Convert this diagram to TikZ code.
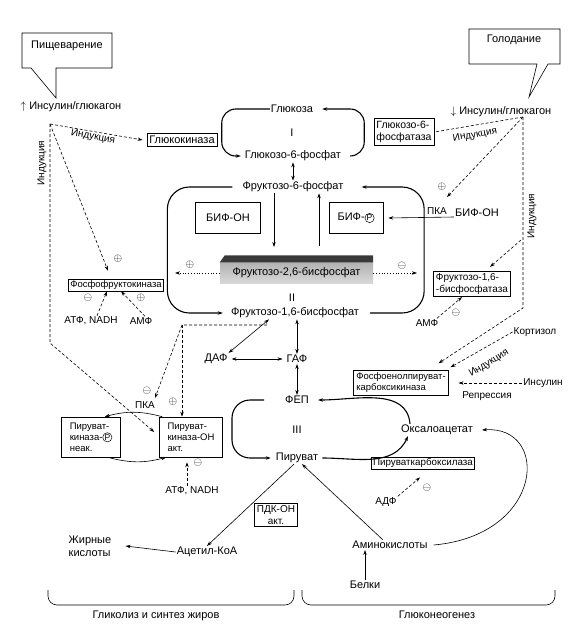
\documentclass[tikz,border=0pt]{standalone}
\usepackage{fontspec}
\setmainfont{Liberation Sans}
\usetikzlibrary{arrows.meta,calc,positioning}

\newcommand{\fosf}{\tikz[baseline=(fp.base)]\node[draw,circle,minimum size=0pt,minimum width=0pt,minimum height=0pt,inner sep=0.4pt,line width=0.5pt,font=\fontsize{8.5}{8.5}\selectfont](fp){P};}

\tikzset{
  txt/.style={font=\fontsize{11}{13}\selectfont,inner sep=1pt},
  sm/.style={font=\fontsize{10}{11.5}\selectfont,inner sep=1pt},
  enz/.style={draw,line width=0.6pt,font=\fontsize{9.5}{11}\selectfont,inner sep=2.5pt,align=left},
  flux/.style={->,line width=1.1pt,rounded corners=14pt},
  reg/.style={->,line width=0.6pt,dash pattern=on 3pt off 2pt},
  dline/.style={line width=0.6pt,dash pattern=on 3pt off 2pt},
  eff/.style={->,line width=0.8pt,dotted},
  thinarr/.style={->,line width=0.6pt},
  sgn/.style={inner sep=0pt,font=\fontsize{11}{11}\selectfont}
}

\begin{document}
\begin{tikzpicture}[x=1pt,y=-1pt,>={Stealth[length=5pt,width=3.4pt]}]
\useasboundingbox (0,0) rectangle (569,637);

% callouts
\draw[line width=0.6pt] (31,68) -- (22,68) -- (22,33) -- (112,33) -- (112,68) -- (56,68) -- (56,98) -- cycle;
\node[txt] (dig) at (67,46) {Пищеварение};
\draw[line width=0.6pt] (537,64) -- (469,64) -- (469,29) -- (560,29) -- (560,64) -- (548,64) -- (529,97) -- cycle;
\node[txt] (fast) at (514,40) {Голодание};

\node[txt] (insU) at (71,107) {$\uparrow$ Инсулин/глюкагон};
\node[txt] (insD) at (501,112) {$\downarrow$ Инсулин/глюкагон};
\coordinate (hubU) at (50,124);
\coordinate (hubD) at (523,117);

% metabolites
\node[txt] (glc) at (292,109) {Глюкоза};
\node[txt] (nI) at (292,133) {I};
\node[txt] (g6p) at (293,156) {Глюкозо-6-фосфат};
\node[txt] (f6p) at (293,187) {Фруктозо-6-фосфат};
\node[txt] (nII) at (292,298) {II};
\node[txt] (f16) at (295,313) {Фруктозо-1,6-бисфосфат};
\node[txt] (dap) at (216,359) {ДАФ};
\node[txt] (gap) at (297,359) {ГАФ};
\node[txt] (pep) at (297,400) {ФЕП};
\node[txt] (nIII) at (297,430) {III};
\node[txt] (pyr) at (297,458) {Пируват};
\node[txt] (oaa) at (437,430) {Оксалоацетат};
\node[txt] (acoa) at (207,552) {Ацетил-КоА};
\node[txt,align=left] (fa) at (90,546) {Жирные\\кислоты};
\node[txt] (aa) at (390,545) {Аминокислоты};
\node[txt] (prot) at (365,585) {Белки};

% enzymes
\node[enz,font=\fontsize{11}{13}\selectfont,inner sep=2.5pt] (gk) at (182,140) {Глюкокиназа};
\node[enz,font=\fontsize{10.5}{12}\selectfont] (g6pase) at (404,132) {Глюкозо-6-\\фосфатаза};
\node[enz,inner sep=1.5pt] (pfk) at (116,285) {Фосфофруктокиназа};
\node[enz,font=\fontsize{11}{13}\selectfont,minimum width=65pt,minimum height=31pt,align=center] (bifoh) at (228,218) {БИФ-ОН};
\node[enz,font=\fontsize{11}{13}\selectfont,minimum width=54pt,minimum height=31pt,align=center] (bifp) at (356,218) {БИФ-\fosf};
\node[enz,font=\fontsize{10}{11.5}\selectfont] (fbpase) at (472,284) {Фруктозо-1,6-\\-бисфосфатаза};
\node[enz] (pepck) at (401,383) {Фосфоенолпируват-\\карбоксикиназа};
\node[enz,inner sep=1.5pt,font=\fontsize{9.8}{11}\selectfont] (pc) at (423,463) {Пируваткарбоксилаза};
\node[enz,minimum width=59pt,minimum height=40pt] (pkp) at (91,437) {Пируват-\\киназа-\fosf\\неак.};
\node[enz,minimum width=63pt,minimum height=40pt] (pkoh) at (191,437) {Пируват-\\киназа-ОН\\акт.};
\node[enz,align=center,font=\fontsize{10}{11.5}\selectfont] (pdh) at (276,515) {ПДК-ОН\\акт.};

% fructose-2,6-bisphosphate bar
\node[minimum width=153pt,minimum height=21pt,inner sep=0pt,top color=gray!60,bottom color=gray!30,
  font=\fontsize{11}{13}\selectfont] (f26) at (296.5,273) {Фруктозо-2,6-бисфосфат};
\fill[gray!45!black] (f26.north west) -- ++(5,-7) -- ([yshift=7pt]f26.north east) -- (f26.north east) -- cycle;
\coordinate (f26in) at (274,247);
\coordinate (f26out) at (319,246);
\coordinate (effL) at (175,273);
\coordinate (effR) at (417,273);

% small labels
\node[sm,rotate=-10] (ind1) at (93,137) {Индукция};
\node[sm,rotate=90] (ind2) at (42,163) {Индукция};
\node[sm,rotate=10] (ind3) at (475,135) {Индукция};
\node[sm,rotate=90] (ind4) at (532,216) {Индукция};
\node[sm,rotate=32] (ind5) at (489,363) {Индукция};
\node[sm] (cort) at (535,332) {Кортизол};
\node[sm] (insl) at (543,383) {Инсулин};
\node[sm] (rep) at (487,396) {Репрессия};
\node[sm] (pka1) at (437,211) {ПКА};
\node[txt] (bif2) at (477,213) {БИФ-ОН};
\node[sm] (pka2) at (145,405) {ПКА};
\node[sm] (atp1) at (91,321) {АТФ, NADH};
\node[sm] (amp1) at (141,321) {АМФ};
\node[sm] (amp2) at (427,323) {АМФ};
\node[sm] (atp2) at (192,491) {АТФ, NADH};
\node[sm] (adp) at (386,502) {АДФ};

% signs
\node[sgn] (s1) at (118,259) {$\oplus$};
\node[sgn] (s2) at (88,298) {$\ominus$};
\node[sgn] (s3) at (141,298) {$\oplus$};
\node[sgn] (s4) at (190,265) {$\oplus$};
\node[sgn] (s5) at (402,266) {$\ominus$};
\node[sgn] (s6) at (442,187) {$\oplus$};
\node[sgn] (s7) at (456,313) {$\ominus$};
\node[sgn] (s8) at (147,391) {$\ominus$};
\node[sgn] (s9) at (173,402) {$\oplus$};
\node[sgn] (s10) at (198,463) {$\ominus$};
\node[sgn] (s11) at (427,488) {$\ominus$};

% main fluxes
\draw[flux] (glc.west) -- ++(-48,0) |- ([xshift=-3pt]g6p.west);
\draw[flux] ([xshift=8pt]g6p.east) -- ++(14,0) |- ([xshift=8pt]glc.east);
\draw[flux,rounded corners=22pt] ([xshift=-9pt]f6p.west) -- ++(-65,0) |- ([xshift=-7pt]f16.west);
\draw[flux,rounded corners=22pt] ([xshift=10pt]f16.east) -- ++(54,0) |- ([xshift=17pt]f6p.east);
\draw[flux,rounded corners=18pt] ([xshift=-20pt]pep.west) -- ++(-32,0) |- ([xshift=-4pt]pyr.west);
\draw[flux] ([xshift=3pt]pyr.east) to[out=0,in=-115] ([xshift=-29pt]oaa.south);
\draw[flux] ([xshift=-27pt]oaa.north) to[out=95,in=0] ([xshift=8pt]pep.east);
\draw[thinarr] ([xshift=5pt]aa.east) .. controls (545,535) and (550,425) .. ([xshift=8pt]oaa.east);

% reversible steps
\draw[thinarr,<->] (g6p.south) -- (f6p.north);
\draw[thinarr,<->] ([xshift=-26pt]f16.south) -- (dap.north east);
\draw[thinarr,<->] ([xshift=3pt]dap.east) -- ([xshift=-3pt]gap.west);
\draw[thinarr,<->] (gap.north |- f16.south) -- (gap.north);
\draw[thinarr,<->] (gap.south) -- (pep.north);
\draw[thinarr] ([xshift=-3pt]pyr.south) -- (acoa.north);
\draw[thinarr] ([xshift=-7pt]aa.north) -- ([xshift=5pt]pyr.south);
\draw[thinarr] (acoa.west) -- ([xshift=13pt]fa.east);
\draw[thinarr] (prot.north) -- (prot.north |- aa.south);

% bifunctional enzyme
\draw[thinarr] ([xshift=-19pt]f6p.south) -- (f26in);
\draw[thinarr] (f26out) -- ([xshift=26pt]f6p.south);
\draw[eff] (f26.west) -- (effL);
\draw[eff] (f26.east) -- (effR);
\draw[thinarr] ([yshift=-4pt]bif2.west) -- ([xshift=5pt]bifp.east);

% hormones
\draw[reg] (hubU) -- ([xshift=-4pt]gk.west);
\draw[reg] (hubU) -- (50,343) -- ([xshift=-5pt,yshift=5pt]pkoh.west);
\draw[reg] (hubU) -- ([xshift=-8pt,yshift=8pt]pfk.north);
\draw[dline] (hubD) -- (g6pase.east);
\draw[reg] (hubD) -- (447,197);
\draw[reg] (hubD) -- (523,308) -- ([xshift=-10pt,yshift=7pt]pepck.north east);
\draw[reg] (521,240) -- ([xshift=18pt,yshift=4pt]fbpase.north);
\draw[reg] (cort.west) -- ([xshift=2pt,yshift=3pt]pepck.north east);
\draw[reg] (insl.west) -- ([xshift=10pt]pepck.east);

% allosteric effectors
\draw[reg] ([xshift=6pt]atp1.north) -- ([xshift=-9pt]pfk.south);
\draw[reg] ([xshift=4pt]amp1.north) -- ([xshift=5pt]pfk.south);
\draw[reg] ([xshift=10pt]amp2.north) -- ([xshift=-10pt]fbpase.south);
\draw[reg,shorten >=5pt] ([xshift=-5pt]atp2.north) -- ([xshift=-5pt]atp2.north |- pkoh.south);
\draw[reg] (adp.north east) -- ([xshift=-3pt,yshift=-8pt]pc.south);

% pyruvate kinase
\coordinate (f16d) at (267,325);
\coordinate (pkhub) at (182,325);
\draw[reg] (f16d) -- (pkhub) -- (155,398);
\draw[reg] (pkhub) -- (pkhub |- pkoh.north);
\draw[thinarr] ([xshift=3pt]pkoh.north west) to[out=165,in=15] ([xshift=-16pt]pkp.north east);
\draw[thinarr] ([xshift=-13pt]pkp.south east) to[out=-15,in=-165] ([xshift=7pt]pkoh.south west);

% braces
\draw[line width=0.6pt,rounded corners=9pt] (48,590) |- (294,605) -- (294,590);
\draw[line width=0.6pt,rounded corners=9pt] (302,590) |- (555,605) -- (555,590);
\node[txt] (lbl1) at (156,616) {Гликолиз и синтез жиров};
\node[txt] (lbl2) at (437,615) {Глюконеогенез};
\end{tikzpicture}
\end{document}
